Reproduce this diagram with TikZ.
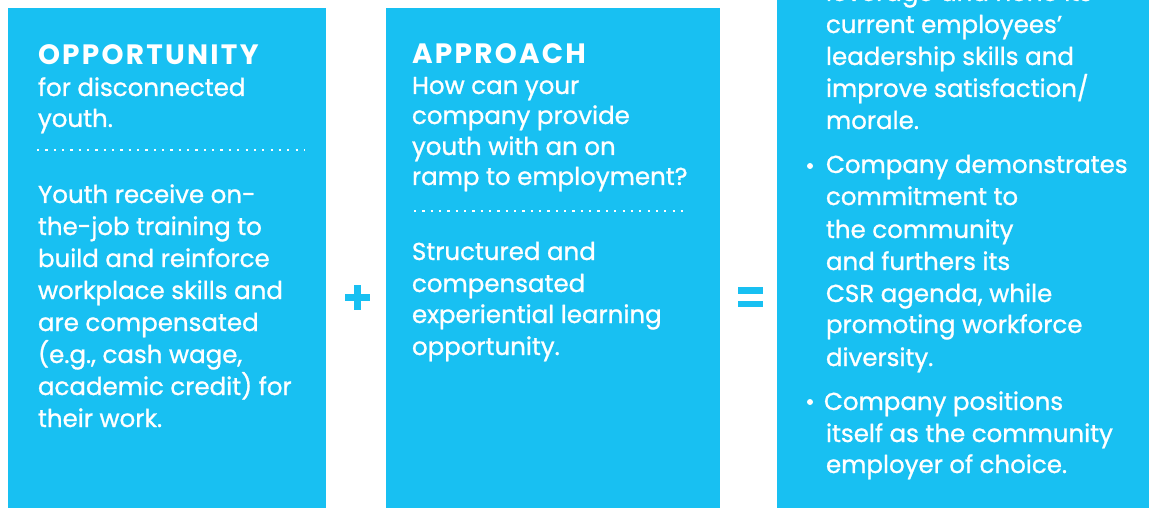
\documentclass[tikz,border=0pt]{standalone}
\usepackage{fontspec}
\setmainfont{Poppins}
\newfontfamily\bodyfont{Poppins}[FakeBold=1.0]
\newfontfamily\headfont{Poppins}[LetterSpace=8]
\definecolor{cyanbox}{RGB}{24,192,242}
\begin{document}
\begin{tikzpicture}[x=1pt,y=-1pt,
  box/.style={fill=cyanbox, draw=none, inner sep=0, outer sep=0, anchor=north west},
  ln/.style={anchor=base west, inner sep=0, outer sep=0, text=white, font=\bodyfont\fontsize{24.5}{32}\selectfont},
  hd/.style={ln, font=\headfont\fontsize{28}{32}\selectfont\bfseries},
  dotline/.style={draw=white, line width=2.2pt, dash pattern=on 2.2pt off 6.14pt},
  sign/.style={fill=cyanbox, draw=none},
  bullet/.style={circle, fill=white, inner sep=0, minimum size=6pt}]
\useasboundingbox (0,0) rectangle (1149,508);
\clip (0,0) rectangle (1149,508);
% boxes
\node[box, minimum width=318pt, minimum height=500pt] (b1) at (8,8) {};
\node[box, minimum width=334pt, minimum height=500pt] (b2) at (386,8) {};
\node[box, minimum width=372pt, minimum height=520pt] (b3) at (777,-12) {};
% plus and equals
\fill[sign] (345,294) rectangle (370,301);
\fill[sign] (354,285) rectangle (361,310);
\fill[sign] (738,287) rectangle (763,294);
\fill[sign] (738,301) rectangle (763,307);
% box 1
\node[hd] (h1) at (38,65) {OPPORTUNITY};
\foreach \y/\t [count=\i] in {96/{for disconnected}, 127/{youth.},
  203/{Youth receive on-}, 235/{the-job training to}, 267/{build and reinforce},
  299/{workplace skills and}, 331/{are compensated}, 363/{(e.g., cash wage,},
  395/{academic credit) for}, 427/{their work.}}
  \node[ln] (a\i) at (38,\y) {\t};
\coordinate (d1s) at (37,150);
\coordinate (d1e) at (305,150);
\draw[dotline] (d1s) -- (d1e);
% box 2
\node[hd] (h2) at (412,64) {APPROACH};
\foreach \y/\t [count=\i] in {94/{How can your}, 124/{company provide},
  155/{youth with an on}, 185/{ramp to employment?},
  260/{Structured and}, 292/{compensated}, 323/{experiential learning},
  355/{opportunity.}}
  \node[ln] (c\i) at (412,\y) {\t};
\coordinate (d2s) at (414,211);
\coordinate (d2e) at (684,211);
\draw[dotline] (d2s) -- (d2e);
% box 3
\foreach \y/\t [count=\i] in {1/{leverage and hone its}, 33/{current employees’},
  65/{leadership skills and}, 97/{improve satisfaction/}, 129/{morale.},
  173/{Company demonstrates}, 205/{commitment to}, 238/{the community},
  270/{and furthers its}, 302/{CSR agenda, while}, 333/{promoting workforce},
  366/{diversity.}}
  \node[ln] (e\i) at (826,\y) {\t};
\foreach \y/\t [count=\i] in {410/{Company positions}}
  \node[ln] (f\i) at (824,\y) {\t};
\foreach \y/\t [count=\i] in {442/{itself as the community}, 473/{employer of choice.}}
  \node[ln] (g\i) at (826,\y) {\t};
\node[bullet] (p1) at (810,166) {};
\node[bullet] (p2) at (810,402) {};
\end{tikzpicture}
\end{document}
